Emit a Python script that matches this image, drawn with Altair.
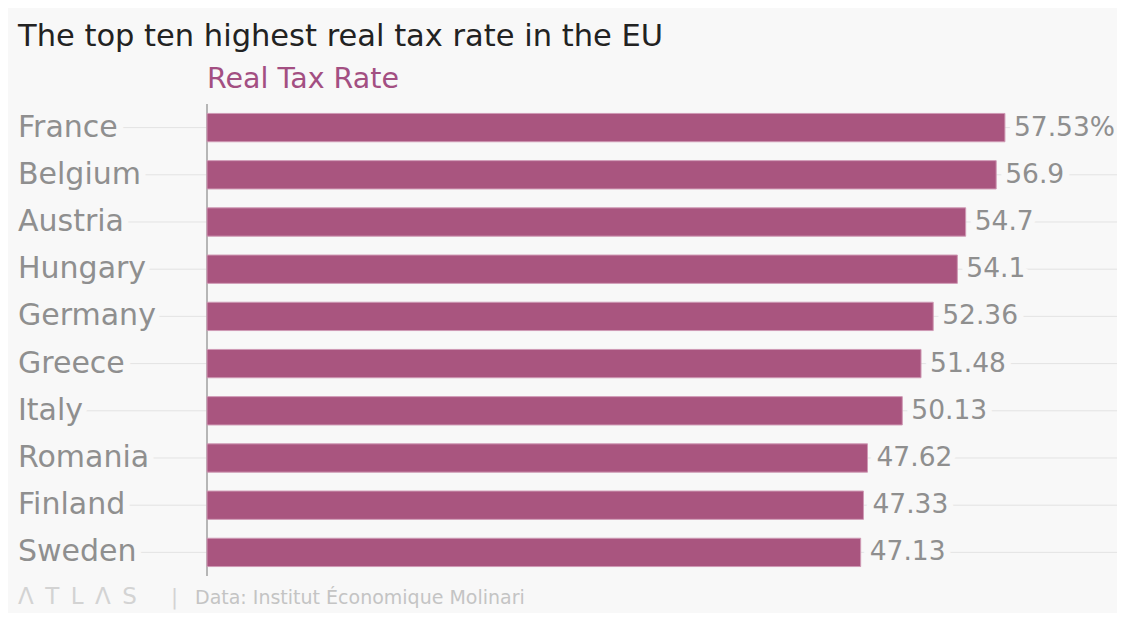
import altair as alt
import pandas as pd

countries = ["France", "Belgium", "Austria", "Hungary", "Germany",
             "Greece", "Italy", "Romania", "Finland", "Sweden"]
rates = [57.53, 56.9, 54.7, 54.1, 52.36, 51.48, 50.13, 47.62, 47.33, 47.13]
value_labels = ["57.53%", "56.9", "54.7", "54.1", "52.36",
                "51.48", "50.13", "47.62", "47.33", "47.13"]

title_text = "The top ten highest real tax rate in the EU"
subtitle_text = "Real Tax Rate"
footer_logo = "Λ\u2002T\u2002L\u2002Λ\u2002S"
footer_text = "Data: Institut Économique Molinari"

W, H = 1099, 472
X_MIN, X_MAX = -13.627, 65.61
BG = "#f8f8f8"
BAR = "#a9557f"
GRAY = "#8f8f8f"
FONT = "DejaVu Sans"

df = pd.DataFrame({"country": countries, "rate": rates, "label": value_labels})
df["x0"] = X_MIN
df["x1"] = X_MAX
df["zero"] = 0.0

xs = alt.Scale(domain=[X_MIN, X_MAX], nice=False, zero=False)
y = alt.Y("country:N", sort=countries, axis=None,
          scale=alt.Scale(paddingInner=0.4, paddingOuter=0.2))

base = alt.Chart(df)

grid = base.mark_rule(color="#e3e3e3", strokeWidth=1).encode(
    x=alt.X("x0:Q", scale=xs, axis=None), x2="x1:Q", y=y)

bars = base.mark_bar(color=BAR, stroke="#cf9ab5", strokeWidth=1).encode(
    x=alt.X("zero:Q", scale=xs, axis=None), x2="rate:Q", y=y)

axis_line = alt.Chart(pd.DataFrame({"zero": [0.0]})).mark_rule(
    color="#a0a0a0", strokeWidth=1.5).encode(
    x=alt.X("zero:Q", scale=xs, axis=None), y=alt.value(0), y2=alt.value(H))


def label_layer(xfield, textfield, dx, size, halo):
    kw = dict(align="left", baseline="middle", fontSize=size, font=FONT, dx=dx)
    if halo:
        kw.update(color=BG, stroke=BG, strokeWidth=14, strokeJoin="round")
    else:
        kw.update(color=GRAY)
    return base.mark_text(**kw).encode(
        x=alt.X(f"{xfield}:Q", scale=xs, axis=None), y=y, text=f"{textfield}:N")


cty_halo = label_layer("x0", "country", 0, 30, True)
cty = label_layer("x0", "country", 0, 30, False)
val_halo = label_layer("rate", "label", 9, 26.5, True)
val = label_layer("rate", "label", 9, 26.5, False)

one = pd.DataFrame({"t": [title_text], "s": [subtitle_text], "zero": [0.0],
                    "logo": [footer_logo], "f": [footer_text]})
tb = alt.Chart(one)
title = tb.mark_text(align="left", baseline="alphabetic", fontSize=30.5, font=FONT,
                     color="#222222").encode(x=alt.value(0), y=alt.value(-58), text="t:N")
subtitle = tb.mark_text(align="left", baseline="alphabetic", fontSize=28.5, font=FONT,
                        color="#a34f82").encode(
    x=alt.X("zero:Q", scale=xs, axis=None), y=alt.value(-16), text="s:N")
logo = tb.mark_text(align="left", baseline="alphabetic", fontSize=23, font=FONT,
                    color="#d3d3d3").encode(x=alt.value(0), y=alt.value(500), text="logo:N")
sep = tb.mark_text(align="left", baseline="alphabetic", fontSize=21, font=FONT,
                   color="#d3d3d3").encode(x=alt.value(153), y=alt.value(500), text=alt.value("|"))
footer = tb.mark_text(align="left", baseline="alphabetic", fontSize=19, font=FONT,
                      color="#c4c4c4").encode(x=alt.value(177), y=alt.value(500), text="f:N")

chart = alt.layer(grid, axis_line, bars, cty_halo, cty, val_halo, val,
                  title, subtitle, logo, sep, footer).properties(
    width=W, height=H,
    autosize=alt.AutoSizeParams(type="none"),
    padding={"left": 10, "top": 96, "right": 0, "bottom": 37},
    background=BG,
).configure_view(strokeWidth=0)

chart.save("out.html", embed_options={"renderer": "svg", "actions": False})
